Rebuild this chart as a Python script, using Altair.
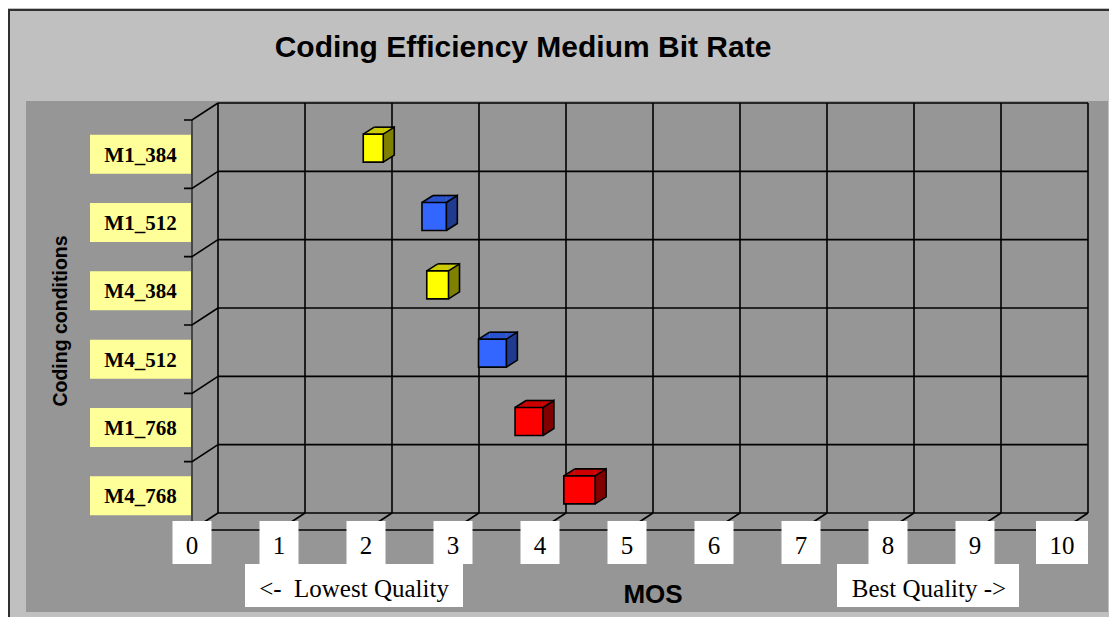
import altair as alt
import pandas as pd

# ---------------- data ----------------
conditions = ["M1_384", "M1_512", "M4_384", "M4_512", "M1_768", "M4_768"]
bit_rates = ["384", "512", "384", "512", "768", "768"]
mos_values = [1.98, 2.68, 2.72, 3.35, 3.77, 4.35]
mos_half_interval = [0.115, 0.14, 0.125, 0.16, 0.16, 0.18]
tick_values = [0, 1, 2, 3, 4, 5, 6, 7, 8, 9, 10]
tick_labels = ["0", "1", "2", "3", "4", "5", "6", "7", "8", "9", "10"]

title_text = "Coding Efficiency Medium Bit Rate"
x_title = "MOS"
y_title = "Coding conditions"
low_note = "<-\u00a0 Lowest Quality"
high_note = "Best Quality ->"

rate_order = ["384", "512", "768"]
front_colors = ["#FFFF00", "#3366FF", "#FF0000"]
top_colors = ["#CCCC00", "#2952CC", "#CC0000"]
side_colors = ["#808000", "#1F3A8F", "#800000"]

# ---------------- layout ----------------
W, H = 870, 410
LW = 1.6
SERIF = "Liberation Serif"
SANS = "Liberation Sans"

df = pd.DataFrame({"cond": conditions, "rate": bit_rates,
                   "mos": mos_values, "half": mos_half_interval})
df_ticks = pd.DataFrame({"v": tick_values, "label": tick_labels})
one = pd.DataFrame({"k": [0]})

xs = alt.Scale(domain=[0, 10], nice=False, zero=False)
ys = alt.Scale(domain=conditions, paddingInner=0, paddingOuter=0)


def X(f):
    return alt.X(f, scale=xs, axis=None)


def Y(**kw):
    return alt.Y("cond:N", scale=ys, axis=None, sort=conditions, **kw)


def fill(colors):
    return alt.Fill("rate:N", scale=alt.Scale(domain=rate_order, range=colors), legend=None)


# background panel and frame
panel = alt.Chart(one).mark_rect(fill="#969696").encode(
    x=alt.value(-192), x2=alt.value(890), y=alt.value(-2), y2=alt.value(509))
border = alt.Chart(one).mark_rect(fillOpacity=0, stroke="#303030", strokeWidth=2).encode(
    x=alt.value(-209), x2=alt.value(1200), y=alt.value(-93), y2=alt.value(800))

# back wall grid
vgrid = alt.Chart(df_ticks).mark_rule(color="black", strokeWidth=LW).encode(
    x=X("v:Q"), y=alt.value(0), y2=alt.value(H))
hgrid = alt.Chart(df).mark_rule(color="black", strokeWidth=LW).encode(
    y=Y(bandPosition=0), x=alt.value(0), x2=alt.value(W))
bottom = alt.Chart(one).mark_rule(color="black", strokeWidth=LW).encode(
    x=alt.value(0), x2=alt.value(W), y=alt.value(H))

# side wall and floor
side_diag = alt.Chart(df).mark_point(
    shape="M0,0L-26,17L-34,17", size=4, filled=False, stroke="black",
    strokeWidth=LW, opacity=1).encode(x=alt.value(0), y=Y(bandPosition=0))
floor_diag = alt.Chart(df_ticks).mark_point(
    shape="M0,0L-26,17", size=4, filled=False, stroke="black",
    strokeWidth=LW, opacity=1).encode(x=X("v:Q"), y=alt.value(H))
side_line = alt.Chart(one).mark_rule(color="#333333", strokeWidth=LW).encode(
    x=alt.value(-26), y=alt.value(17), y2=alt.value(H + 17))
floor_line = alt.Chart(one).mark_rule(color="black", strokeWidth=LW).encode(
    x=alt.value(-26), x2=alt.value(W - 26), y=alt.value(H + 17))

# cubes
base = alt.Chart(df).transform_calculate(
    lo="datum.mos - datum.half", hi="datum.mos + datum.half")

top_mid = base.mark_bar(orient="horizontal", size=7, yOffset=-6.5, xOffset=-6,
                        x2Offset=-17, strokeWidth=0).encode(
    x=X("lo:Q"), x2="hi:Q", y=Y(), fill=fill(top_colors))
top_lo = base.mark_point(shape="M-17,-3L-6,-10L-6,-3Z", size=4, filled=True,
                         opacity=1, strokeWidth=0).encode(
    x=X("lo:Q"), y=Y(), fill=fill(top_colors))
top_hi = base.mark_point(shape="M-17,-3L-6,-10L-17,-10Z", size=4, filled=True,
                         opacity=1, strokeWidth=0).encode(
    x=X("hi:Q"), y=Y(), fill=fill(top_colors))
side_face = base.mark_point(shape="M-17,-3L-6,-10L-6,18L-17,25Z", size=4, filled=True,
                            opacity=1, strokeWidth=0).encode(
    x=X("hi:Q"), y=Y(), fill=fill(side_colors))
front_face = base.mark_bar(orient="horizontal", size=28, yOffset=11, xOffset=-17,
                           x2Offset=-17, stroke="black", strokeWidth=LW).encode(
    x=X("lo:Q"), x2="hi:Q", y=Y(), fill=fill(front_colors))
edge_back = base.mark_rule(color="black", strokeWidth=LW, xOffset=-6, x2Offset=-6,
                           yOffset=-10).encode(x=X("lo:Q"), x2="hi:Q", y=Y())
edge_lo = base.mark_point(shape="M-17,-3L-6,-10", size=4, filled=False, stroke="black",
                          strokeWidth=LW, opacity=1).encode(x=X("lo:Q"), y=Y())
edge_hi = base.mark_point(shape="M-17,-3L-6,-10L-6,18L-17,25", size=4, filled=False,
                          stroke="black", strokeWidth=LW, opacity=1).encode(
    x=X("hi:Q"), y=Y())

# category labels (yellow boxes)
label_box = alt.Chart(df).mark_point(
    shape="M-50.5,-19.5L50.5,-19.5L50.5,19.5L-50.5,19.5Z", size=4, filled=True,
    fill="#FFFF99", opacity=1, strokeWidth=0, yOffset=17).encode(
    x=alt.value(-77.5), y=Y())
label_text = alt.Chart(df).mark_text(
    font=SERIF, fontWeight="bold", fontSize=21, align="center",
    baseline="alphabetic", yOffset=24.5, color="black").encode(
    x=alt.value(-77.5), y=Y(), text="cond:N")

# tick labels (white boxes)
box_n = "M-19.5,-21.5L19.5,-21.5L19.5,21.5L-19.5,21.5Z"
box_w = "M-26,-21.5L26,-21.5L26,21.5L-26,21.5Z"
tick_box = alt.Chart(df_ticks).transform_calculate(
    box="datum.v >= 10 ? 'wide' : 'narrow'").mark_point(
    size=4, filled=True, fill="white", opacity=1, strokeWidth=0, xOffset=-26).encode(
    x=X("v:Q"), y=alt.value(439.5),
    shape=alt.Shape("box:N", scale=alt.Scale(domain=["narrow", "wide"], range=[box_n, box_w]),
                    legend=None))
tick_text = alt.Chart(df_ticks).mark_text(
    font=SERIF, fontSize=25, align="center", baseline="alphabetic", xOffset=-26,
    color="black").encode(x=X("v:Q"), y=alt.value(451), text="label:N")

# quality notes
low_box = alt.Chart(one).mark_rect(fill="white").encode(
    x=alt.value(27), x2=alt.value(245), y=alt.value(461), y2=alt.value(504))
high_box = alt.Chart(one).mark_rect(fill="white").encode(
    x=alt.value(619), x2=alt.value(801), y=alt.value(461), y2=alt.value(504))
low_text = alt.Chart(one).mark_text(font=SERIF, fontSize=25, align="center",
                                    baseline="alphabetic", color="black").encode(
    x=alt.value(136), y=alt.value(494), text=alt.value(low_note))
high_text = alt.Chart(one).mark_text(font=SERIF, fontSize=25, align="center",
                                     baseline="alphabetic", color="black").encode(
    x=alt.value(711), y=alt.value(494), text=alt.value(high_note))

# titles
title = alt.Chart(one).mark_text(font=SANS, fontWeight="bold", fontSize=30, align="center",
                                 baseline="alphabetic", color="black").encode(
    x=alt.value(305), y=alt.value(-46), text=alt.value(title_text))
xlab = alt.Chart(one).mark_text(font=SANS, fontWeight="bold", fontSize=26, align="center",
                                baseline="alphabetic", color="black").encode(
    x=alt.value(435), y=alt.value(500), text=alt.value(x_title))
ylab = alt.Chart(one).mark_text(font=SANS, fontWeight="bold", fontSize=19.5, align="center",
                                baseline="alphabetic", angle=270, color="black").encode(
    x=alt.value(-151), y=alt.value(218), text=alt.value(y_title))

chart = alt.layer(
    panel, border, vgrid, hgrid, bottom, side_line, side_diag, floor_line, floor_diag,
    top_mid, top_lo, top_hi, side_face, front_face, edge_back, edge_lo, edge_hi,
    label_box, label_text, tick_box, tick_text,
    low_box, high_box, low_text, high_text, title, xlab, ylab,
).resolve_scale(
    fill="independent", shape="independent"
).properties(
    width=W, height=H,
    autosize=alt.AutoSizeParams(type="none"),
    padding={"left": 210, "top": 95, "right": 21, "bottom": 104},
).configure(
    background="#C0C0C0"
).configure_view(
    stroke="transparent"
)

chart.save("out.html", embed_options={"renderer": "svg", "actions": False})
